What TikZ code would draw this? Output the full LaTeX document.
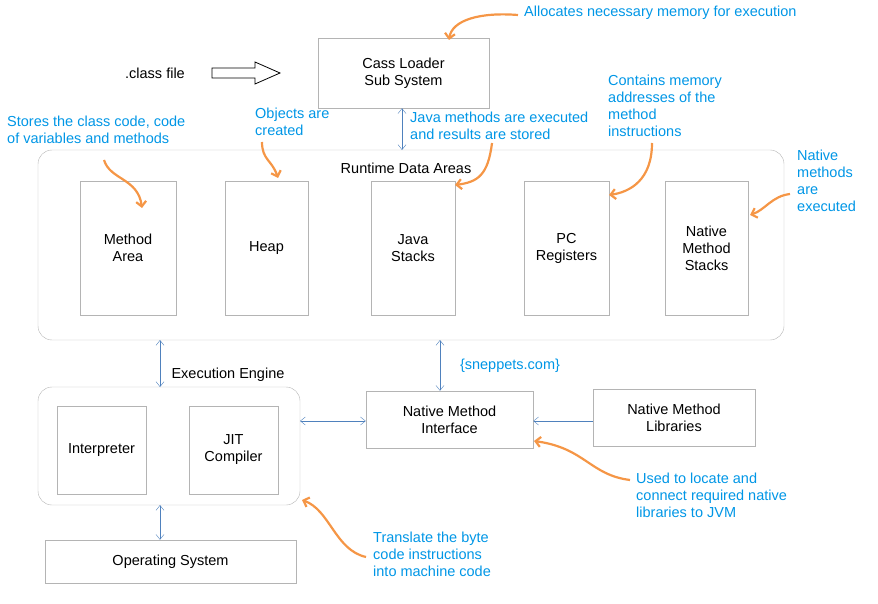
\documentclass[tikz,border=0pt]{standalone}
\usepackage{fontspec}
\setmainfont{Liberation Sans}
\usetikzlibrary{arrows.meta}
\definecolor{bx}{RGB}{180,180,180}
\definecolor{ab}{RGB}{79,129,189}
\definecolor{note}{RGB}{0,150,230}
\definecolor{og}{RGB}{245,150,70}
\begin{document}
\begin{tikzpicture}[x=1pt,y=-1pt,font=\fontsize{14.5}{17}\selectfont,
  box/.style={draw=bx,align=center,inner sep=0},
  rbox/.style={draw=bx,rounded corners=14},
  conn/.style={draw=ab,{Straight Barb[length=5pt,width=8pt]}-{Straight Barb[length=5pt,width=8pt]}},
  conn1/.style={draw=ab,-{Straight Barb[length=5pt,width=8pt]}},
  ann/.style={draw=og,line width=2.2pt,-{Straight Barb[length=5pt,width=10pt]}},
  nt/.style={text=note,align=left,anchor=north west,inner sep=0}]
\useasboundingbox (0,0) rectangle (878,604);
% class file
\node (cf) at (155,73) {.class file};
\draw[line width=0.8pt] (212,68) -- (255,68) -- (255,62) -- (280,73) -- (255,84) -- (255,78) -- (212,78) -- cycle;
\node[box,minimum width=171,minimum height=70] (cl) at (403.5,73) {Cass Loader\\Sub System};
% runtime
\draw[rbox] (38,150) rectangle (784,340);
\node (rt) at (406,168) {Runtime Data Areas};
\coordinate (rtt) at (402,150);
\node[box,minimum width=96,minimum height=134] (ma) at (128,248) {Method\\Area};
\node[box,minimum width=83,minimum height=134] (hp) at (266.5,248) {Heap};
\node[box,minimum width=84,minimum height=134] (js) at (413,248) {Java\\Stacks};
\node[box,minimum width=85,minimum height=134] (pc) at (566.5,248) {PC\\Registers};
\node[box,minimum width=83,minimum height=134] (nm) at (706.5,248) {Native\\Method\\Stacks};
\draw[conn] (cl.south -| rtt) -- (rtt);
% execution engine
\draw[rbox] (38,387) rectangle (300,505);
\node (ee) at (228,375) {Execution Engine};
\node[box,minimum width=89,minimum height=88] (ip) at (101.5,450) {Interpreter};
\node[box,minimum width=89,minimum height=88] (jit) at (233.5,450) {JIT\\Compiler};
\coordinate (rtb1) at (160,340); \coordinate (eet) at (160,387);
\draw[conn] (rtb1) -- (eet);
\node[box,minimum width=167,minimum height=57] (nmi) at (449.5,419.5) {Native Method\\Interface};
\node[box,minimum width=162,minimum height=57] (nml) at (674,417.5) {Native Method\\Libraries};
\coordinate (rtb2) at (440,340);
\draw[conn] (rtb2) -- (nmi.north -| rtb2);
\coordinate (eer) at (300,421);
\draw[conn] (eer) -- (nmi.west |- eer);
\draw[conn1] (nml.west |- eer) -- (nmi.east |- eer);
\node[text=note] (sn) at (510,366) {\{sneppets.com\}};
\node[box,minimum width=251,minimum height=43] (os) at (170.5,561.5) {Operating System};
\coordinate (eeb) at (160,505);
\draw[conn] (eeb) -- (os.north -| eeb);
% notes
\node[nt] (n1) at (524,6) {Allocates necessary memory for execution};
\draw[ann] (518,15) .. controls (480,12) and (452,20) .. (449,40);
\node[nt] (n2) at (410,112) {Java methods are executed\\and results are stored};
\draw[ann] (492,143) .. controls (488,175) and (478,182) .. (455,185);
\node[nt] (n3) at (7,116) {Stores the class code, code\\of variables and methods};
\draw[ann] (104,160) .. controls (110,180) and (138,178) .. (142,208);
\node[nt] (n4) at (255,108) {Objects are\\created};
\draw[ann] (262,142) .. controls (262,160) and (272,160) .. (278,178);
\node[nt] (n5) at (608,75) {Contains memory\\addresses of the\\method\\instructions};
\draw[ann] (652,143) .. controls (652,180) and (630,192) .. (609,195);
\node[nt] (n6) at (797,150) {Native\\methods\\are\\executed};
\draw[ann] (790,194) .. controls (772,196) and (765,210) .. (750,215);
\node[nt] (n7) at (636,473) {Used to locate and\\connect required native\\libraries to JVM};
\draw[ann] (630,480) .. controls (590,475) and (585,448) .. (534,441);
\node[nt] (n8) at (373,532) {Translate the byte\\code instructions\\into machine code};
\draw[ann] (366,557) .. controls (335,550) and (330,510) .. (302,500);
\end{tikzpicture}
\end{document}
